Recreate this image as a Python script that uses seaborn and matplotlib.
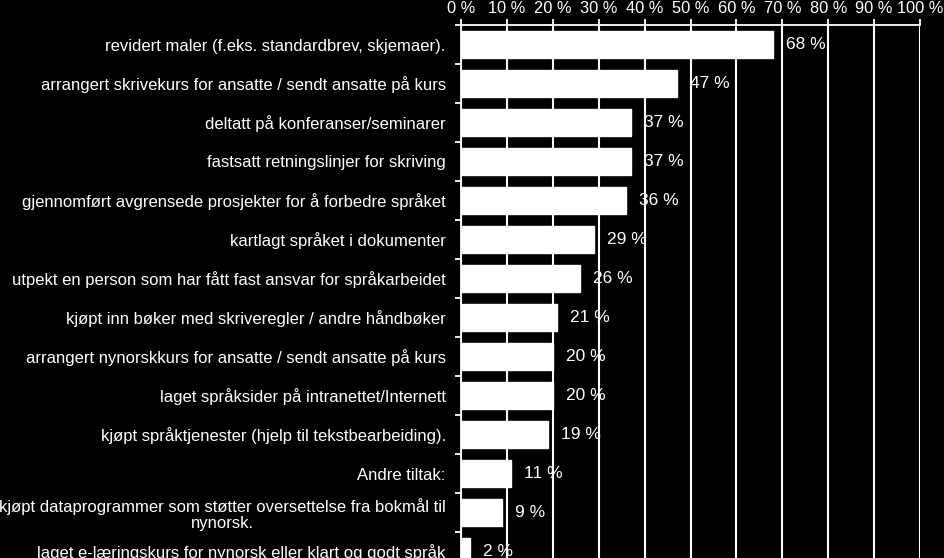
import matplotlib
matplotlib.use("Agg")
import matplotlib.pyplot as plt
import seaborn as sns
import pandas as pd
from matplotlib.ticker import FixedLocator

categories = [
    "revidert maler (f.eks. standardbrev, skjemaer).",
    "arrangert skrivekurs for ansatte / sendt ansatte på kurs",
    "deltatt på konferanser/seminarer",
    "fastsatt retningslinjer for skriving",
    "gjennomført avgrensede prosjekter for å forbedre språket",
    "kartlagt språket i dokumenter",
    "utpekt en person som har fått fast ansvar for språkarbeidet",
    "kjøpt inn bøker med skriveregler / andre håndbøker",
    "arrangert nynorskkurs for ansatte / sendt ansatte på kurs",
    "laget språksider på intranettet/Internett",
    "kjøpt språktjenester (hjelp til tekstbearbeiding).",
    "Andre tiltak:",
    "kjøpt dataprogrammer som støtter oversettelse fra bokmål til\nnynorsk.",
    "laget e-læringskurs for nynorsk eller klart og godt språk",
]
values = [68, 47, 37, 37, 36, 29, 26, 21, 20, 20, 19, 11, 9, 2]
xticks = [0, 10, 20, 30, 40, 50, 60, 70, 80, 90, 100]
xticklabels = [f"{t} %" for t in xticks]

df = pd.DataFrame({"cat": categories, "val": values})

sns.set_theme(style="dark")
plt.rcParams["font.family"] = ["Liberation Sans", "DejaVu Sans"]

fig = plt.figure(figsize=(9.44, 5.58), dpi=100)
fig.patch.set_facecolor("black")
W, H = 944, 558
left, right, top, bottom = 461, 920, 25, 571
ax = fig.add_axes([left / W, 1 - bottom / H, (right - left) / W, (bottom - top) / H])
ax.set_facecolor("black")

sns.barplot(data=df, x="val", y="cat", orient="h", color="white",
            saturation=1, width=0.71, ax=ax, zorder=3)

ax.set_xlim(0, 100)
ax.set_ylim(len(categories) - 0.5, -0.5)
ax.set_xlabel("")
ax.set_ylabel("")

ax.xaxis.tick_top()
ax.set_xticks(xticks)
ax.set_xticklabels(xticklabels)
ax.tick_params(axis="x", colors="white", labelcolor="white", labelsize=11.8,
               length=4, width=1.3, direction="out", pad=2.5, top=True, bottom=False)

ax.yaxis.set_major_locator(FixedLocator(range(len(categories))))
ax.set_yticklabels(categories)
ax.yaxis.set_minor_locator(FixedLocator([i - 0.5 for i in range(len(categories) + 1)]))
ax.tick_params(axis="y", which="major", length=0, pad=11, labelcolor="white",
               labelsize=12)
ax.tick_params(axis="y", which="minor", length=4, width=1.3, color="white", left=True)
for lab in ax.get_yticklabels():
    lab.set_multialignment("center")
    lab.set_linespacing(1.05)

ax.grid(axis="x", color="white", linewidth=1.5, zorder=1)
ax.grid(axis="y", visible=False)
ax.set_axisbelow(True)

for s in ["right", "bottom"]:
    ax.spines[s].set_visible(False)
for s in ["left", "top"]:
    ax.spines[s].set_visible(True)
    ax.spines[s].set_color("white")
    ax.spines[s].set_linewidth(1.3)

for i, v in enumerate(values):
    ax.annotate(f"{v} %", xy=(v, i), xytext=(13, 0), textcoords="offset pixels",
                ha="left", va="center", color="white", fontsize=12.5, zorder=2)

fig.savefig("out.png", dpi=100, facecolor="black")
